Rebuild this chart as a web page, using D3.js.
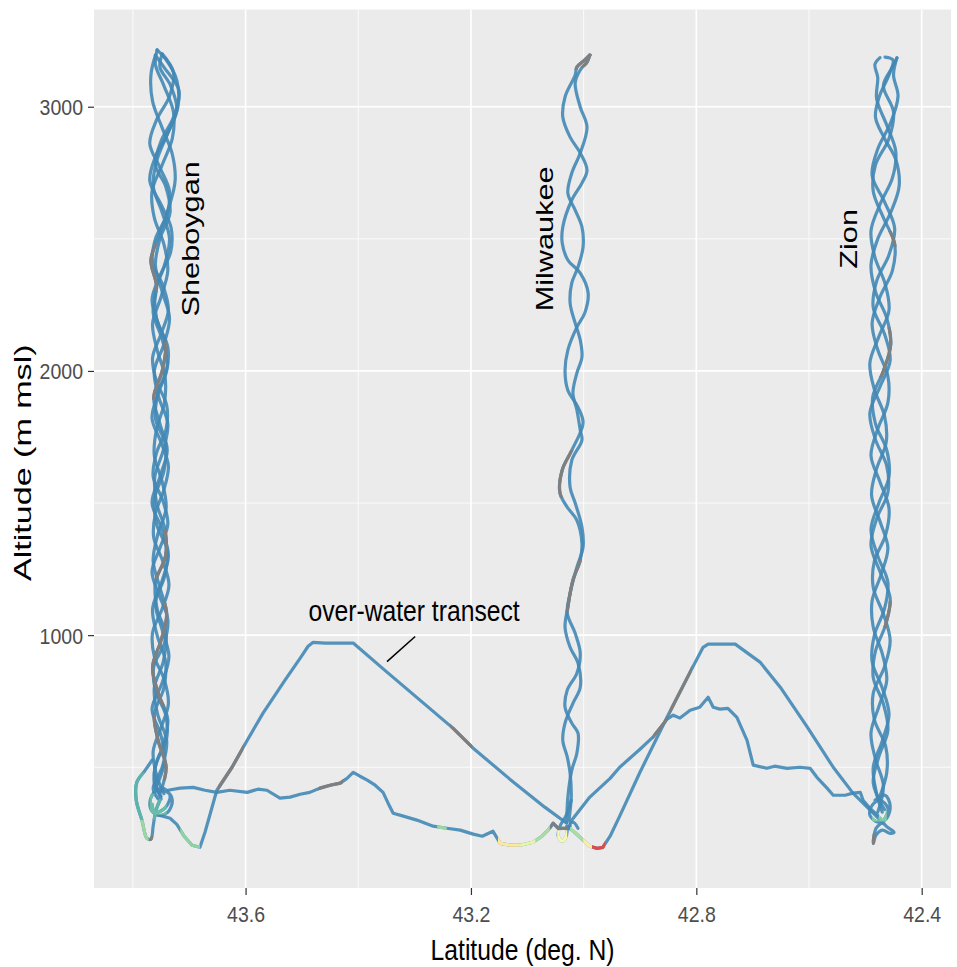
<!DOCTYPE html>
<html>
<head>
<meta charset="utf-8">
<script src="https://cdn.jsdelivr.net/npm/d3@7"></script>
<style>
  body { margin: 0; background: #fff; }
  text { font-family: "Liberation Sans", Arial, sans-serif; }
</style>
</head>
<body>
<div id="chart"></div>
<script>
// Flight track data, each point is [latitude (deg N), altitude (m msl)]

// Sheboygan vertical profile (three ascents, three descents)
const shebA = [[43.750,380],[43.762,480],[43.747,580],[43.738,680],[43.755,780],[43.765,880],[43.750,980],[43.740,1080],[43.752,1180],[43.764,1280],[43.756,1380],[43.741,1480],[43.748,1580],[43.762,1680],[43.758,1780],[43.744,1880],[43.743,1980],[43.757,2080],[43.765,2180],[43.750,2280],[43.738,2380],[43.745,2480],[43.762,2580],[43.766,2680],[43.748,2780],[43.730,2880],[43.728,2980],[43.745,3080],[43.760,3160],[43.757,3215]];
const shebB = [[43.757,3215],[43.740,3175],[43.722,3100],[43.720,3000],[43.738,2900],[43.757,2800],[43.764,2700],[43.748,2600],[43.735,2500],[43.744,2400],[43.760,2300],[43.758,2200],[43.742,2100],[43.748,2000],[43.763,1900],[43.752,1800],[43.739,1700],[43.752,1600],[43.766,1500],[43.748,1400],[43.737,1300],[43.749,1200],[43.765,1100],[43.757,1000],[43.742,900],[43.745,800],[43.762,700],[43.755,600],[43.741,500],[43.752,400]];
const shebC = [[43.760,420],[43.744,520],[43.750,620],[43.766,720],[43.748,820],[43.736,920],[43.748,1020],[43.760,1120],[43.744,1220],[43.739,1320],[43.758,1420],[43.761,1520],[43.745,1620],[43.742,1720],[43.760,1820],[43.755,1920],[43.739,2020],[43.748,2120],[43.764,2220],[43.758,2320],[43.768,2420],[43.752,2520],[43.736,2620],[43.725,2720],[43.730,2820],[43.748,2920],[43.765,3020],[43.768,3120],[43.760,3195]];
const shebD = [[43.760,3195],[43.745,3150],[43.718,3060],[43.728,2960],[43.750,2870],[43.760,2780],[43.742,2700],[43.734,2600],[43.752,2500],[43.760,2400],[43.748,2300],[43.735,2200],[43.745,2100],[43.762,2000],[43.754,1900],[43.738,1800],[43.746,1700],[43.761,1600],[43.758,1500],[43.743,1400],[43.742,1300],[43.760,1200],[43.757,1100],[43.741,1000],[43.746,900],[43.762,800],[43.756,700],[43.740,600],[43.748,500],[43.764,420],[43.755,380]];
const shebE = [[43.745,400],[43.758,470],[43.764,560],[43.750,650],[43.737,740],[43.744,830],[43.762,920],[43.765,1010],[43.748,1100],[43.736,1190],[43.747,1280],[43.763,1370],[43.760,1460],[43.745,1550],[43.737,1640],[43.750,1730],[43.766,1820],[43.756,1910],[43.740,2000],[43.738,2090],[43.755,2180],[43.766,2270],[43.752,2360],[43.733,2450],[43.732,2540],[43.750,2630],[43.770,2720],[43.760,2810],[43.738,2900],[43.722,2990],[43.733,3080],[43.752,3150],[43.748,3200]];
const shebF = [[43.748,3200],[43.728,3130],[43.735,3040],[43.758,2950],[43.770,2860],[43.752,2770],[43.735,2680],[43.740,2590],[43.760,2500],[43.765,2410],[43.746,2320],[43.737,2230],[43.750,2140],[43.765,2050],[43.758,1960],[43.740,1870],[43.741,1780],[43.758,1690],[43.764,1600],[43.747,1510],[43.738,1420],[43.752,1330],[43.766,1240],[43.753,1150],[43.738,1060],[43.744,970],[43.763,880],[43.760,790],[43.742,700],[43.740,610],[43.758,520],[43.762,440],[43.750,390]];
const shebWest = [[43.766,527],[43.778,489],[43.793,443],[43.794,375],[43.784,300],[43.775,231],[43.768,228],[43.764,277],[43.759,337],[43.752,375]];
const shebKnot = [[43.755,413],[43.738,405],[43.730,375],[43.738,330],[43.755,318],[43.769,345],[43.766,394],[43.748,421],[43.734,394],[43.743,345],[43.761,330],[43.766,360]];

// Milwaukee vertical profile
const milA = [[42.989,3196],[42.998,3177],[43.012,3150],[43.015,3120],[43.033,3037],[43.037,2961],[43.024,2885],[43.006,2825],[42.994,2760],[43.003,2711],[43.021,2647],[43.037,2545],[43.038,2484],[43.028,2420],[43.006,2370],[42.992,2295],[42.998,2219],[43.012,2166],[43.028,2079],[43.033,2003],[43.028,1927],[43.010,1863],[43.001,1803],[43.021,1700],[43.038,1625],[43.042,1538],[43.029,1484],[43.012,1435],[43.003,1348],[43.006,1284],[43.019,1208],[43.028,1106],[43.033,1030],[43.024,954],[43.010,894],[43.006,803],[43.019,742],[43.033,667],[43.037,602],[43.029,538],[43.024,477],[43.022,387],[43.026,300]];
const milB = [[42.989,3196],[42.994,3169],[43.006,3139],[43.015,3090],[43.006,2999],[42.994,2923],[43.006,2825],[43.021,2749],[43.028,2673],[43.015,2609],[43.003,2545],[43.001,2469],[43.010,2393],[43.021,2333],[43.024,2257],[43.015,2181],[43.006,2117],[43.003,2052],[43.012,1992],[43.019,1916],[43.012,1852],[43.006,1776],[43.003,1738],[43.021,1662],[43.024,1560],[43.015,1500],[43.003,1409],[43.001,1333],[43.012,1257],[43.024,1159],[43.029,1083],[43.015,1007],[43.006,932],[43.012,856],[43.029,792],[43.033,727],[43.021,667],[43.010,629],[43.012,553],[43.021,489],[43.028,387],[43.030,292]];
const milKnot = [[43.022,375],[43.031,318],[43.042,277],[43.045,239],[43.038,220],[43.031,239],[43.028,269],[43.019,292],[43.010,269]];

// Zion vertical profile
const zionA = [[42.478,330],[42.468,430],[42.482,530],[42.490,630],[42.476,730],[42.462,830],[42.470,930],[42.486,1030],[42.488,1130],[42.472,1230],[42.460,1330],[42.474,1430],[42.489,1530],[42.480,1630],[42.463,1730],[42.466,1830],[42.484,1930],[42.492,2030],[42.476,2130],[42.458,2230],[42.465,2330],[42.483,2430],[42.490,2530],[42.474,2630],[42.452,2730],[42.446,2830],[42.462,2930],[42.480,3030],[42.478,3110],[42.483,3160],[42.474,3186]];
const zionB = [[42.465,3188],[42.451,3177],[42.458,3120],[42.475,3040],[42.482,2960],[42.466,2880],[42.446,2800],[42.440,2700],[42.455,2600],[42.478,2500],[42.490,2400],[42.482,2300],[42.462,2200],[42.455,2100],[42.468,2000],[42.487,1900],[42.482,1800],[42.462,1700],[42.458,1600],[42.476,1500],[42.490,1400],[42.478,1300],[42.460,1200],[42.466,1100],[42.484,1000],[42.488,900],[42.470,800],[42.458,700],[42.470,600],[42.486,500],[42.480,400],[42.470,330]];
const zionC = [[42.466,340],[42.486,440],[42.476,540],[42.460,640],[42.468,740],[42.486,840],[42.482,940],[42.464,1040],[42.456,1140],[42.474,1240],[42.490,1340],[42.480,1440],[42.460,1540],[42.462,1640],[42.482,1740],[42.492,1840],[42.474,1940],[42.456,2040],[42.466,2140],[42.486,2240],[42.480,2340],[42.458,2440],[42.448,2540],[42.466,2640],[42.488,2740],[42.478,2840],[42.455,2940],[42.442,3040],[42.450,3120],[42.444,3185]];
const zionD = [[42.444,3185],[42.452,3150],[42.468,3080],[42.450,2980],[42.458,2880],[42.482,2780],[42.486,2680],[42.468,2580],[42.448,2480],[42.452,2380],[42.474,2280],[42.488,2180],[42.478,2080],[42.460,1980],[42.460,1880],[42.478,1780],[42.490,1680],[42.474,1580],[42.458,1480],[42.464,1380],[42.484,1280],[42.486,1180],[42.468,1080],[42.456,980],[42.466,880],[42.486,780],[42.484,680],[42.464,580],[42.462,480],[42.476,380]];
const zionKnot = [[42.483,375],[42.465,394],[42.456,356],[42.462,307],[42.477,292],[42.492,318],[42.488,356],[42.474,375],[42.460,345],[42.467,300],[42.481,269],[42.486,212],[42.481,243],[42.470,262],[42.456,250],[42.449,254],[42.463,277],[42.474,307]];

// Transects between the sites
const overWater = [[43.752,318],[43.734,307],[43.722,284],[43.709,239],[43.695,205],[43.681,197],[43.672,254],[43.663,322],[43.651,413],[43.624,500],[43.597,602],[43.569,705],[43.530,830],[43.503,913],[43.489,958],[43.480,973],[43.459,970],[43.409,970],[43.349,860],[43.232,648],[43.196,572],[43.131,455],[43.069,349],[43.030,288]];
const lowWest = [[43.738,413],[43.716,421],[43.693,424],[43.672,413],[43.651,405],[43.628,413],[43.597,405],[43.578,417],[43.562,413],[43.539,383],[43.521,387],[43.503,398],[43.486,405],[43.468,421],[43.450,432],[43.432,440],[43.420,458],[43.409,481],[43.397,466],[43.384,451],[43.370,432],[43.356,405],[43.347,364],[43.338,326],[43.320,315],[43.296,300],[43.267,277],[43.243,269],[43.219,262],[43.196,247],[43.180,239],[43.161,258],[43.148,212],[43.131,205],[43.113,205],[43.090,216],[43.074,239],[43.063,262],[43.054,288],[43.045,269],[43.031,269],[43.024,277]];
const milSouth = [[43.030,277],[43.016,254],[43.001,224],[42.989,201],[42.976,193],[42.966,197],[42.953,239],[42.936,315],[42.900,481],[42.852,689],[42.811,860],[42.788,954],[42.779,966],[42.731,966],[42.687,898],[42.651,803],[42.603,652],[42.557,500],[42.522,402],[42.486,326],[42.470,292]];
const lowEast = [[43.024,292],[42.989,387],[42.953,458],[42.936,500],[42.900,568],[42.877,614],[42.852,682],[42.841,697],[42.829,686],[42.811,716],[42.794,727],[42.779,765],[42.770,727],[42.758,720],[42.744,723],[42.728,689],[42.710,602],[42.699,508],[42.675,496],[42.661,504],[42.639,496],[42.616,500],[42.598,496],[42.586,462],[42.568,421],[42.557,394],[42.536,394],[42.522,402],[42.509,405],[42.504,375],[42.492,345],[42.478,318]];

// Stretches with no measurement (drawn grey)
const grayRuns = [
  {leg: "shebC", alt: [2300, 2480]},
  {leg: "shebB", alt: [1890, 2110]},
  {leg: "shebD", alt: [1210, 1400]},
  {leg: "shebA", alt: [730, 1130]},
  {leg: "shebB", alt: [450, 700]},
  {leg: "shebWest", lat: [43.764, 43.772], alt: [220, 240]},
  {leg: "milA", alt: [3140, 3200]},
  {leg: "milB", alt: [3150, 3200]},
  {leg: "milA", alt: [1520, 1700]},
  {leg: "milA", alt: [1090, 1285]},
  {leg: "zionB", alt: [1975, 2165]},
  {leg: "zionD", alt: [2470, 2530]},
  {leg: "zionC", alt: [1030, 1130]},
  {leg: "zionKnot", lat: [42.482, 42.490], alt: [205, 250]},
  {leg: "overWater", lat: [43.604, 43.649]},
  {leg: "overWater", lat: [43.198, 43.237]},
  {leg: "lowWest", lat: [43.427, 43.471]},
  {leg: "lowWest", lat: [43.028, 43.059]},
  {leg: "milSouth", lat: [42.808, 42.847]},
  {leg: "lowEast", lat: [42.852, 42.877]}
];

// Low-level stretches with measured values (0 = red, 1 = violet)
const valueRuns = [
  {leg: "shebWest", alt: [300, 480], v: 0.82},
  {leg: "shebWest", lat: [43.772, 43.80], alt: [220, 300], v: 0.72},
  {leg: "shebKnot", lat: [43.740, 43.770], alt: [320, 400], v: 0.8},
  {leg: "overWater", lat: [43.681, 43.716], alt: [190, 300], v: 0.74},
  {leg: "lowWest", lat: [43.243, 43.260], v: 0.72},
  {leg: "lowWest", lat: [43.113, 43.152], v: 0.43},
  {leg: "lowWest", lat: [43.085, 43.113], v: 0.58},
  {leg: "lowWest", lat: [43.060, 43.085], v: 0.7},
  {leg: "milKnot", lat: [43.029, 43.047], alt: [200, 262], v: 0.52},
  {leg: "milSouth", lat: [43.001, 43.024], v: 0.7},
  {leg: "milSouth", lat: [42.985, 43.001], v: 0.45},
  {leg: "milSouth", lat: [42.962, 42.985], v: 0.13},
  {leg: "zionKnot", lat: [42.462, 42.488], alt: [295, 340], v: 0.76}
];

const siteNames = ["Sheboygan", "Milwaukee", "Zion"];
const siteLat = [43.697, 43.069, 42.529];
const siteAlt = [2500, 2500, 2500];

const xTicks = [43.6, 43.2, 42.8, 42.4];
const xMinor = [43.8, 43.4, 43.0, 42.6];
const yTicks = [1000, 2000, 3000];
const yMinor = [500, 1500, 2500];

// ---------------------------------------------------------------
const width = 957, height = 967;
const panel = {left: 94, right: 951, top: 9.5, bottom: 888};

const legs = {shebA, shebB, shebC, shebD, shebE, shebF, shebWest, shebKnot, milA, milB, milKnot,
              zionA, zionB, zionC, zionD, zionKnot, overWater, lowWest, milSouth, lowEast};
const straightLegs = new Set(["overWater", "lowWest", "milSouth", "lowEast"]);

const svg = d3.select("#chart").append("svg")
    .attr("width", width)
    .attr("height", height);

const x = d3.scaleLinear().domain([43.869, 42.348]).range([panel.left, panel.right]);
const y = d3.scaleLinear().domain([43, 3368]).range([panel.bottom, panel.top]);

const lineColor = d3.interpolateSpectral(0.9);

// panel background
svg.append("rect")
    .attr("x", panel.left).attr("y", panel.top)
    .attr("width", panel.right - panel.left)
    .attr("height", panel.bottom - panel.top)
    .attr("fill", "#EBEBEB");

// grid lines
const grid = svg.append("g");
grid.selectAll(".xminor").data(xMinor).join("line")
    .attr("x1", d => x(d)).attr("x2", d => x(d))
    .attr("y1", panel.top).attr("y2", panel.bottom)
    .attr("stroke", "#fff").attr("stroke-width", 0.8);
grid.selectAll(".yminor").data(yMinor).join("line")
    .attr("y1", d => y(d)).attr("y2", d => y(d))
    .attr("x1", panel.left).attr("x2", panel.right)
    .attr("stroke", "#fff").attr("stroke-width", 0.8);
grid.selectAll(".xmajor").data(xTicks).join("line")
    .attr("x1", d => x(d)).attr("x2", d => x(d))
    .attr("y1", panel.top).attr("y2", panel.bottom)
    .attr("stroke", "#fff").attr("stroke-width", 1.7);
grid.selectAll(".ymajor").data(yTicks).join("line")
    .attr("y1", d => y(d)).attr("y2", d => y(d))
    .attr("x1", panel.left).attr("x2", panel.right)
    .attr("stroke", "#fff").attr("stroke-width", 1.7);

// line generators
const lineFor = name => d3.line()
    .x(d => x(d[0]))
    .y(d => y(d[1]))
    .curve(straightLegs.has(name) ? d3.curveLinear : d3.curveCatmullRom.alpha(0.5));

const tracks = svg.append("g")
    .attr("fill", "none")
    .attr("stroke-linejoin", "round")
    .attr("stroke-linecap", "round");

Object.keys(legs).forEach(name => {
  tracks.append("path")
      .attr("d", lineFor(name)(legs[name]))
      .attr("stroke", lineColor)
      .attr("stroke-width", 3.2)
      .attr("stroke-opacity", 0.9);
});

// coloured stretches: same path, clipped to a lat / alt window
const defs = svg.append("defs");
const runs = grayRuns.map(r => Object.assign({color: "#7F7F7F"}, r))
    .concat(valueRuns.map(r => Object.assign({color: d3.interpolateSpectral(r.v)}, r)));

runs.forEach((r, i) => {
  const x0 = r.lat ? x(d3.max(r.lat)) : panel.left;
  const x1 = r.lat ? x(d3.min(r.lat)) : panel.right;
  const y0 = r.alt ? y(d3.max(r.alt)) : panel.top;
  const y1 = r.alt ? y(d3.min(r.alt)) : panel.bottom;
  defs.append("clipPath").attr("id", "run" + i)
    .append("rect")
      .attr("x", x0).attr("y", y0)
      .attr("width", x1 - x0).attr("height", y1 - y0);
  tracks.append("path")
      .attr("d", lineFor(r.leg)(legs[r.leg]))
      .attr("stroke", r.color)
      .attr("stroke-width", 3.2)
      .attr("clip-path", `url(#run${i})`);
});

// site labels
siteNames.forEach((name, i) => {
  svg.append("text")
      .attr("transform", `translate(${x(siteLat[i])},${y(siteAlt[i])}) scale(1,1.28) rotate(-90)`)
      .attr("text-anchor", "middle")
      .attr("dy", "0.35em")
      .attr("font-size", 24)
      .attr("fill", "#000")
      .text(name);
});

// annotation
svg.append("text")
    .attr("transform", `translate(${x(43.301)},${y(1091)}) scale(1,1.2)`)
    .attr("text-anchor", "middle")
    .attr("dy", "0.35em")
    .attr("font-size", 24.7)
    .attr("fill", "#000")
    .text("over-water transect");
svg.append("line")
    .attr("x1", x(43.349)).attr("y1", y(900))
    .attr("x2", x(43.299)).attr("y2", y(995))
    .attr("stroke", "#000").attr("stroke-width", 1.5);

// axes
const xAxis = svg.append("g")
    .attr("transform", `translate(0,${panel.bottom})`)
    .call(d3.axisBottom(x).tickValues(xTicks).tickSize(7).tickFormat(d3.format(".1f")));
xAxis.select(".domain").remove();
xAxis.selectAll("line").attr("stroke", "#333").attr("stroke-width", 1.2);
xAxis.selectAll("text")
    .attr("y", null).attr("dy", null)
    .attr("transform", "translate(0,34) scale(1,1.17)")
    .attr("font-size", 19.5)
    .attr("font-family", "Liberation Sans, Arial, sans-serif")
    .attr("fill", "#4D4D4D");

const yAxis = svg.append("g")
    .attr("transform", `translate(${panel.left},0)`)
    .call(d3.axisLeft(y).tickValues(yTicks).tickSize(6).tickFormat(d3.format("d")));
yAxis.select(".domain").remove();
yAxis.selectAll("line").attr("stroke", "#333").attr("stroke-width", 1.2);
yAxis.selectAll("text")
    .attr("x", null).attr("dy", null)
    .attr("transform", "translate(-11,8) scale(1,1.17)")
    .attr("font-size", 19.5)
    .attr("font-family", "Liberation Sans, Arial, sans-serif")
    .attr("fill", "#4D4D4D");

// axis titles
svg.append("text")
    .attr("transform", `translate(${(panel.left + panel.right) / 2},960) scale(1,1.2)`)
    .attr("text-anchor", "middle")
    .attr("font-size", 24.7)
    .attr("fill", "#000")
    .text("Latitude (deg. N)");

svg.append("text")
    .attr("transform", `translate(31,${(panel.top + panel.bottom) / 2 + 14}) scale(1,1.38) rotate(-90)`)
    .attr("text-anchor", "middle")
    .attr("font-size", 24.7)
    .attr("fill", "#000")
    .text("Altitude (m msl)");
</script>
</body>
</html>
